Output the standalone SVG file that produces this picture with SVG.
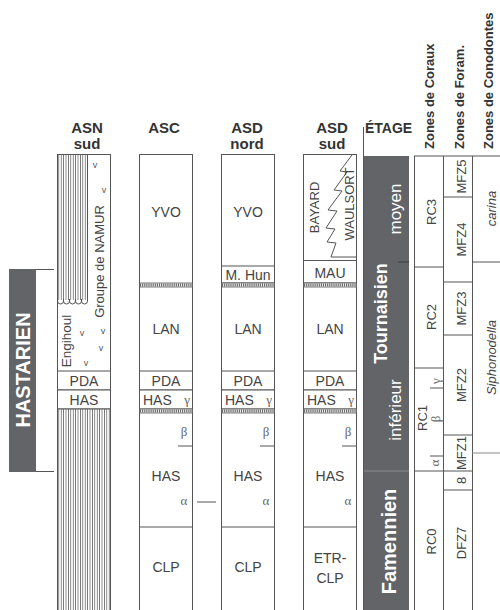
<svg xmlns="http://www.w3.org/2000/svg" width="500" height="610" viewBox="0 0 500 610">
<defs>
<pattern id="vh" width="2.4" height="10" patternUnits="userSpaceOnUse"><rect width="2.4" height="10" fill="#fff"/><line x1="1.2" y1="0" x2="1.2" y2="10" stroke="#555" stroke-width="0.8"/></pattern>
</defs>
<style>
.col{fill:#fff;stroke:#555;stroke-width:1}
.ln{stroke:#555;stroke-width:1;fill:none}
.bandr{fill:#fff;stroke:#555;stroke-width:0.8}
.bandl{stroke:#666;stroke-width:3;stroke-dasharray:1.2 0.9}
.lbl{font-family:"Liberation Sans",Arial,sans-serif;font-size:14px;fill:#444;text-anchor:middle}
.zl{font-family:"Liberation Sans",Arial,sans-serif;font-size:13px;fill:#444;text-anchor:middle}
.it{font-family:"Liberation Sans",Arial,sans-serif;font-size:13px;fill:#444;text-anchor:middle;font-style:italic}
.gr{font-family:"Liberation Serif","Times New Roman",serif;font-size:13px;fill:#666;text-anchor:middle}
.hdr{font-family:"Liberation Sans",Arial,sans-serif;font-size:15px;font-weight:bold;fill:#333;text-anchor:middle}
.zh{font-family:"Liberation Sans",Arial,sans-serif;font-size:13px;font-weight:bold;fill:#333}
.v{font-family:"Liberation Sans",Arial,sans-serif;font-size:9px;fill:#555;text-anchor:middle}
.dark{fill:#636467}
.wb{font-family:"Liberation Sans",Arial,sans-serif;font-weight:bold;fill:#fff;text-anchor:middle}
.wn{font-family:"Liberation Sans",Arial,sans-serif;fill:#fff;text-anchor:middle}
</style>
<rect width="500" height="610" fill="#fff"/>

<g id="headers">
<text class="hdr" x="87" y="133">ASN</text><text class="hdr" x="87" y="149">sud</text>
<text class="hdr" x="164" y="133">ASC</text>
<text class="hdr" x="247" y="133">ASD</text><text class="hdr" x="247" y="149">nord</text>
<text class="hdr" x="332" y="133">ASD</text><text class="hdr" x="332" y="149">sud</text>
<text class="hdr" x="365" y="133" style="text-anchor:start;font-size:14px">ÉTAGE</text>
<text class="zh" transform="translate(434,149) rotate(-90)">Zones de Coraux</text>
<text class="zh" transform="translate(464,149) rotate(-90)">Zones de Foram.</text>
<text class="zh" transform="translate(493,149) rotate(-90)">Zones de Conodontes</text>
</g>

<g id="hastarien">
<rect class="dark" x="9" y="269" width="27" height="203"/>
<line class="ln" x1="36" y1="269.5" x2="54" y2="269.5"/>
<line class="ln" x1="36" y1="471.5" x2="54" y2="471.5"/>
<text class="wb" style="font-size:20px" transform="translate(30,370) rotate(-90)">HASTARIEN</text>
</g>

<g id="asn">
<rect class="col" x="57.5" y="154.5" width="53" height="460"/>
<rect x="58" y="155" width="29" height="145" fill="url(#vh)"/>
<path class="ln" d="M57.5,299 v2 a3,3 0 0 0 6,0 v-2 M63.5,299 v2 a3,3 0 0 0 6,0 v-2 M69.5,299 v2 a3,3 0 0 0 6,0 v-2 M75.5,299 v2 a3,3 0 0 0 6,0 v-2 M81.5,299 v2 a3,3 0 0 0 6,0 v-2"/>
<line class="ln" x1="87.5" y1="154" x2="87.5" y2="301"/>
<text class="lbl" style="font-size:13px" transform="translate(104,261.5) rotate(-90)">Groupe de NAMUR</text>
<text class="lbl" style="font-size:13.5px" transform="translate(71,341) rotate(-90)">Engihoul</text>
<text class="v" x="95" y="168">v</text>
<text class="v" x="104" y="193">v</text>
<text class="v" x="82" y="336">v</text>
<text class="v" x="103" y="334">v</text>
<text class="v" x="101" y="351">v</text>
<text class="v" x="86" y="366">v</text>
<rect class="col" x="57.5" y="371" width="53" height="19"/>
<rect class="col" x="57.5" y="390" width="53" height="19"/>
<text class="lbl" x="84" y="385.5">PDA</text>
<text class="lbl" x="84" y="404.5">HAS</text>
<rect x="57.5" y="409" width="53" height="205" fill="url(#vh)" stroke="#555" stroke-width="1"/>
</g>

<g id="asc">
<rect class="col" x="139.5" y="154.5" width="53" height="460"/>
<text class="lbl" x="166" y="217">YVO</text>
<rect class="bandr" x="139.5" y="283" width="53" height="4"/><line class="bandl" x1="140" y1="285" x2="192" y2="285"/>
<text class="lbl" x="166" y="334">LAN</text>
<rect class="col" x="139.5" y="371" width="53" height="19"/>
<rect class="col" x="139.5" y="390" width="53" height="19"/>
<text class="lbl" x="166" y="385.5">PDA</text>
<text class="lbl" x="143" y="404.5" style="text-anchor:start">HAS</text>
<text class="gr" x="187" y="404">γ</text>
<rect class="bandr" x="139.5" y="409" width="53" height="4"/><line class="bandl" x1="140" y1="411" x2="192" y2="411"/>
<text class="gr" x="184" y="436">β</text>
<line class="ln" x1="178" y1="446" x2="192" y2="446"/>
<text class="lbl" x="166" y="481">HAS</text>
<text class="gr" x="184" y="505">α</text>
<line class="ln" x1="139.5" y1="527" x2="192.5" y2="527"/>
<text class="lbl" x="166" y="572">CLP</text>
</g>

<g id="asd-nord">
<rect class="col" x="221.5" y="154.5" width="53" height="460"/>
<text class="lbl" x="248" y="217">YVO</text>
<rect class="col" x="221.5" y="266" width="53" height="17"/>
<text class="lbl" x="248" y="280">M. Hun</text>
<rect class="bandr" x="221.5" y="283" width="53" height="4"/><line class="bandl" x1="222" y1="285" x2="274" y2="285"/>
<text class="lbl" x="248" y="334">LAN</text>
<rect class="col" x="221.5" y="371" width="53" height="19"/>
<rect class="col" x="221.5" y="390" width="53" height="19"/>
<text class="lbl" x="248" y="385.5">PDA</text>
<text class="lbl" x="225" y="404.5" style="text-anchor:start">HAS</text>
<text class="gr" x="269" y="404">γ</text>
<rect class="bandr" x="221.5" y="409" width="53" height="4"/><line class="bandl" x1="222" y1="411" x2="274" y2="411"/>
<text class="gr" x="266" y="436">β</text>
<line class="ln" x1="260" y1="446" x2="274" y2="446"/>
<text class="lbl" x="248" y="481">HAS</text>
<text class="gr" x="266" y="505">α</text>
<line class="ln" x1="221.5" y1="527" x2="274.5" y2="527"/>
<text class="lbl" x="248" y="572">CLP</text>
</g>

<g id="asd-sud">
<rect class="col" x="303.5" y="154.5" width="53" height="460"/>
<path class="ln" d="M352,155 Q346,163 340,171 L347,172 L334,190 L342,191 L328,210 L337,211 L326,228 L335,229 L327,242 L336,243 L331,257 L356,257"/>
<text class="lbl" style="font-size:13px" transform="translate(319,207.5) rotate(-90)">BAYARD</text>
<text class="lbl" style="font-size:13px" transform="translate(354,204) rotate(-90)">WAULSORT</text>
<rect class="col" x="303.5" y="260.5" width="53" height="22.5"/>
<text class="lbl" x="330" y="278">MAU</text>
<rect class="bandr" x="303.5" y="283" width="53" height="4"/><line class="bandl" x1="304" y1="285" x2="356" y2="285"/>
<text class="lbl" x="330" y="334">LAN</text>
<rect class="col" x="303.5" y="371" width="53" height="19"/>
<rect class="col" x="303.5" y="390" width="53" height="19"/>
<text class="lbl" x="330" y="385.5">PDA</text>
<text class="lbl" x="307" y="404.5" style="text-anchor:start">HAS</text>
<text class="gr" x="351" y="404">γ</text>
<rect class="bandr" x="303.5" y="409" width="53" height="4"/><line class="bandl" x1="304" y1="411" x2="356" y2="411"/>
<text class="gr" x="348" y="436">β</text>
<line class="ln" x1="342" y1="446" x2="356" y2="446"/>
<text class="lbl" x="330" y="481">HAS</text>
<text class="gr" x="348" y="505">α</text>
<line class="ln" x1="303.5" y1="527" x2="356.5" y2="527"/>
<text class="lbl" x="330" y="563">ETR-</text>
<text class="lbl" x="330" y="583">CLP</text>
</g>

<g id="connectors">
<line class="ln" x1="197" y1="502" x2="216" y2="502"/>
</g>

<g id="etage">
<line class="ln" x1="363.5" y1="127" x2="363.5" y2="610"/>
<rect class="dark" x="364" y="156" width="45" height="456"/>
<line x1="398" y1="262" x2="409" y2="262" stroke="#3a3a3a" stroke-width="1"/>
<line x1="364" y1="471" x2="409" y2="471" stroke="#8a8a8a" stroke-width="1"/>
<text class="wb" style="font-size:18px" transform="translate(387,313.5) rotate(-90)">Tournaisien</text>
<text class="wn" style="font-size:17px" transform="translate(401,209) rotate(-90)">moyen</text>
<text class="wn" style="font-size:17px" transform="translate(401,410) rotate(-90)">inférieur</text>
<text class="wb" style="font-size:20px" transform="translate(396,541.5) rotate(-90)">Famennien</text>
</g>

<g id="zones-coraux">
<line class="ln" x1="414" y1="156" x2="500" y2="156"/>
<line class="ln" x1="414.5" y1="156" x2="414.5" y2="610"/>
<line class="ln" x1="443.5" y1="156" x2="443.5" y2="610"/>
<line class="ln" x1="414" y1="267" x2="443" y2="267"/>
<line class="ln" x1="414" y1="368" x2="443" y2="368"/>
<line class="ln" x1="414" y1="471" x2="443" y2="471"/>
<text class="zl" transform="translate(436,212) rotate(-90)">RC3</text>
<text class="zl" transform="translate(436,317) rotate(-90)">RC2</text>
<text class="zl" transform="translate(427,418) rotate(-90)">RC1</text>
<text class="gr" transform="translate(440,381) rotate(-90)">γ</text>
<line class="ln" x1="430" y1="388" x2="443" y2="388"/>
<text class="gr" transform="translate(440,419) rotate(-90)">β</text>
<line class="ln" x1="430" y1="456" x2="443" y2="456"/>
<text class="gr" transform="translate(439,463) rotate(-90)">α</text>
<text class="zl" transform="translate(436,541.5) rotate(-90)">RC0</text>
</g>

<g id="zones-foram">
<line class="ln" x1="472.5" y1="156" x2="472.5" y2="610"/>
<line class="ln" x1="443" y1="197" x2="472" y2="197"/>
<line class="ln" x1="443" y1="282" x2="472" y2="282"/>
<line class="ln" x1="443" y1="335" x2="472" y2="335"/>
<line class="ln" x1="443" y1="435" x2="472" y2="435"/>
<line class="ln" x1="443" y1="471" x2="472" y2="471"/>
<line class="ln" x1="443" y1="490" x2="472" y2="490"/>
<text class="zl" transform="translate(466,176.5) rotate(-90)">MFZ5</text>
<text class="zl" transform="translate(466,239.5) rotate(-90)">MFZ4</text>
<text class="zl" transform="translate(466,308.5) rotate(-90)">MFZ3</text>
<text class="zl" transform="translate(466,385) rotate(-90)">MFZ2</text>
<text class="zl" transform="translate(466,453) rotate(-90)">MFZ1</text>
<text class="zl" transform="translate(466,480.5) rotate(-90)">8</text>
<text class="zl" transform="translate(466,543) rotate(-90)">DFZ7</text>
</g>

<g id="zones-conodontes">
<line class="ln" x1="472" y1="262" x2="500" y2="262"/>
<line x1="472" y1="453" x2="500" y2="453" stroke="#888" stroke-width="1"/>
<text class="it" transform="translate(496,208.5) rotate(-90)">carina</text>
<text class="it" transform="translate(496,357.5) rotate(-90)">Siphonodella</text>
</g>
</svg>
